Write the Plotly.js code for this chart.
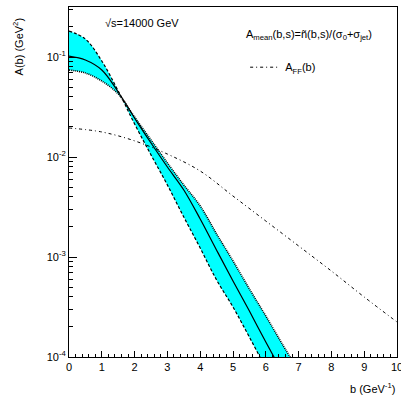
<!DOCTYPE html>
<html>
<head>
<meta charset="utf-8">
<script src="https://cdn.plot.ly/plotly-3.0.1.min.js"></script>
<style>html,body{margin:0;padding:0;background:#fff;}#chart{width:401px;height:400px;}</style>
</head>
<body>
<div id="chart"></div>
<script>
// impact parameter b (GeV^-1)
const bValues = [0, 0.5, 1, 1.5, 2, 2.5, 3, 3.5, 4, 4.5, 5, 5.5, 6, 6.5, 7];
// A_mean(b,s) central curve
const meanValues = [0.102, 0.0933, 0.0741, 0.0447, 0.0245, 0.0138, 0.00794, 0.00468, 0.0024, 0.00117, 0.000575, 0.000288, 0.000141, 0.0000708, 0.0000355];
// band edge that is upper at b=0 (dashed)
const bandA = [0.182, 0.151, 0.0912, 0.0457, 0.0214, 0.0105, 0.00525, 0.00251, 0.00123, 0.000589, 0.000316, 0.000158, 0.0000776, 0.000039, 0.00002];
// band edge that is lower at b=0 (dotted)
const bandB = [0.0741, 0.0692, 0.0575, 0.0427, 0.0251, 0.0148, 0.00871, 0.00525, 0.00324, 0.0017, 0.000912, 0.000479, 0.000257, 0.000135, 0.0000724];
// A_FF(b)
const ffB = [0, 1, 2, 3, 4, 5, 6, 7, 8, 9, 10];
const ffValues = [0.0195, 0.0178, 0.0145, 0.0107, 0.00724, 0.00407, 0.00229, 0.00129, 0.000724, 0.000398, 0.000224];
// axis labels
const xTickLabels = ["0","1","2","3","4","5","6","7","8","9","10"];
const yDecades = [-4, -3, -2, -1];

const font = "Liberation Sans, Arial, Helvetica, sans-serif";

const yTickVals = yDecades.map(d => Math.pow(10, d));
const yTickText = yDecades.map(d => "10<sup>" + d + "</sup>");
const yMinor = [];
for (let d = -4; d <= -1; d++) for (let k = 2; k <= 9; k++) {
  const v = k * Math.pow(10, d);
  if (v < Math.pow(10, -0.5)) yMinor.push(v);
}

const traces = [
  {x: bValues, y: bandA, mode: 'lines', line: {color: 'black', width: 1.2, dash: '3px,2px', shape: 'spline'}, showlegend: false, hoverinfo: 'skip'},
  {x: bValues, y: bandB, mode: 'lines', fill: 'tonexty', fillcolor: '#00ffff', line: {color: 'black', width: 1.6, dash: '1px,1px', shape: 'spline'}, showlegend: false, hoverinfo: 'skip'},
  {x: bValues, y: meanValues, mode: 'lines', line: {color: 'black', width: 1.2, shape: 'spline'}, showlegend: false},
  {x: ffB, y: ffValues, mode: 'lines', name: 'A<sub>FF</sub>(b)', line: {color: 'black', width: 1, dash: '3px,3px,1px,3px', shape: 'spline'}, showlegend: true}
];

const layout = {
  width: 401, height: 400,
  margin: {l: 69, r: 4, t: 7, b: 43},
  paper_bgcolor: 'white', plot_bgcolor: 'white',
  font: {family: font, size: 11, color: 'black'},
  showlegend: true,
  legend: {x: 0.537, y: 0.828, xanchor: 'left', yanchor: 'middle', bgcolor: 'rgba(0,0,0,0)', font: {family: font, size: 11}, itemwidth: 30, tracegroupgap: 0},
  xaxis: {
    range: [0, 10], showgrid: false, zeroline: false,
    showline: true, linecolor: 'black', linewidth: 1, mirror: true,
    ticks: 'inside', ticklen: 6, tickcolor: 'black',
    tickmode: 'array', tickvals: xTickLabels.map(Number), ticktext: xTickLabels,
    ticklabeloverflow: 'allow',
    minor: {dtick: 0.2, tick0: 0, ticks: 'inside', ticklen: 3, tickcolor: 'black', showgrid: false},
    tickfont: {family: font, size: 11}
  },
  yaxis: {
    type: 'log', range: [-4, -0.5], showgrid: false, zeroline: false,
    showline: true, linecolor: 'black', linewidth: 1, mirror: true,
    ticks: 'inside', ticklen: 8, tickcolor: 'black',
    tickmode: 'array', tickvals: yTickVals, ticktext: yTickText,
    minor: {tickmode: 'array', tickvals: yMinor, ticks: 'inside', ticklen: 4, tickcolor: 'black', showgrid: false},
    tickfont: {family: font, size: 11}
  },
  annotations: [
    {text: '√s=14000 GeV', xref: 'paper', yref: 'paper', x: 0.105, y: 0.955, xanchor: 'left', yanchor: 'middle', showarrow: false, font: {family: font, size: 11}},
    {text: 'A<sub>mean</sub>(b,s)=ñ(b,s)/(σ<sub>0</sub>+σ<sub>jet</sub>)', xref: 'paper', yref: 'paper', x: 0.535, y: 0.92, xanchor: 'left', yanchor: 'middle', showarrow: false, font: {family: font, size: 11}},
    {text: 'A(b) (GeV<sup>2</sup>)', xref: 'paper', yref: 'paper', x: -0.155, y: 0.885, xanchor: 'center', yanchor: 'middle', textangle: -90, showarrow: false, font: {family: font, size: 11}},
    {text: 'b (GeV<sup>-1</sup>)', xref: 'paper', yref: 'paper', x: 1.0, y: -0.088, xanchor: 'right', yanchor: 'middle', showarrow: false, font: {family: font, size: 11}}
  ]
};

Plotly.newPlot('chart', traces, layout, {displayModeBar: false, staticPlot: true});
</script>
</body>
</html>
